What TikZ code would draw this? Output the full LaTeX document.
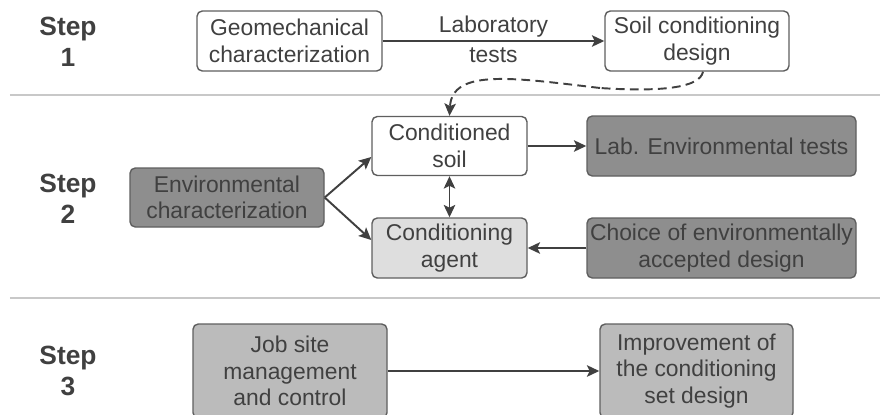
\documentclass[tikz,border=0pt]{standalone}
\usepackage{fontspec}
\setmainfont{Liberation Sans}
\usetikzlibrary{arrows.meta}
\definecolor{ink}{RGB}{64,64,64}
\definecolor{rim}{RGB}{95,95,95}
\definecolor{darkfill}{RGB}{142,142,142}
\definecolor{midfill}{RGB}{187,187,187}
\definecolor{lightfill}{RGB}{222,222,222}
\definecolor{sepgray}{RGB}{200,200,200}

\begin{document}
\begin{tikzpicture}[->,>={Stealth[length=7pt,width=6.5pt,inset=1.5pt]},line width=1.1pt,draw=ink,
  box/.style={rectangle,rounded corners=3pt,draw=rim,line width=0.8pt,fill=white,
    text=ink,align=center,inner sep=0pt,font=\fontsize{13}{15}\selectfont},
  step label/.style={text=ink,align=center,font=\fontsize{15}{17.5}\selectfont\bfseries},
  sep line/.style={-,draw=sepgray,line width=0.8pt}]

  \useasboundingbox (0,0) rectangle (17.6,-8.28);

  % step labels and separators
  \node[step label] (s1) at (1.36,-0.83) {Step\\1};
  \node[step label] (s2) at (1.36,-3.98) {Step\\2};
  \node[step label] (s3) at (1.36,-7.42) {Step\\3};
  \draw[sep line] (0.2,-1.9) -- (17.6,-1.9);
  \draw[sep line] (0.2,-5.96) -- (17.6,-5.96);

  % step 1
  \node[box,minimum width=3.7cm,minimum height=1.2cm]  (geo) at (5.79,-0.82) {Geomechanical\\characterization};
  \node[box,minimum width=3.68cm,minimum height=1.2cm] (design) at (13.94,-0.82) {Soil conditioning\\design};

  % step 2
  \node[box,minimum width=3.1cm,minimum height=1.18cm] (soil) at (8.99,-2.92) {Conditioned\\soil};
  \node[box,fill=darkfill,minimum width=5.38cm,minimum height=1.2cm] (labtests) at (14.43,-2.92) {Lab. Environmental tests};
  \node[box,fill=darkfill,minimum width=3.88cm,minimum height=1.18cm] (envchar) at (4.54,-3.95) {Environmental\\characterization};
  \node[box,fill=lightfill,minimum width=3.1cm,minimum height=1.2cm] (agent) at (8.99,-4.96) {Conditioning\\agent};
  \node[box,fill=darkfill,minimum width=5.38cm,minimum height=1.2cm] (choice) at (14.43,-4.96) {Choice of environmentally\\accepted design};

  % step 3
  \node[box,fill=midfill,minimum width=3.88cm,minimum height=1.88cm] (jobsite) at (5.8,-7.42) {Job site\\management\\and control};
  \node[box,fill=midfill,minimum width=3.86cm,minimum height=1.88cm] (improve) at (13.93,-7.42) {Improvement of\\the conditioning\\set design};

  \coordinate (dashmid) at (12.0,-1.76);

  \path[every node/.style={text=ink,inner sep=1pt,font=\fontsize{13}{15}\selectfont}]
    (geo) edge node[above=0.5pt] {Laboratory} node[below=2.5pt] {tests} (design)
    (envchar.east) edge ([yshift=-0.22cm]soil.west)
    (envchar.east) edge ([yshift=0.16cm]agent.west)
    (soil) edge[<->] (agent)
    (soil) edge (labtests)
    (choice) edge (agent)
    (jobsite) edge (improve);

  % dashed link from the design down to the soil
  \draw[dash pattern=on 5pt off 3pt,-] ([xshift=0.12cm]design.south) .. controls (14.0,-1.76) and (13.2,-1.84) .. (dashmid);
  \draw[dash pattern=on 5pt off 3pt] (dashmid) .. controls (10.3,-1.56) and (9.04,-1.36) .. (soil.north);
\end{tikzpicture}
\end{document}
